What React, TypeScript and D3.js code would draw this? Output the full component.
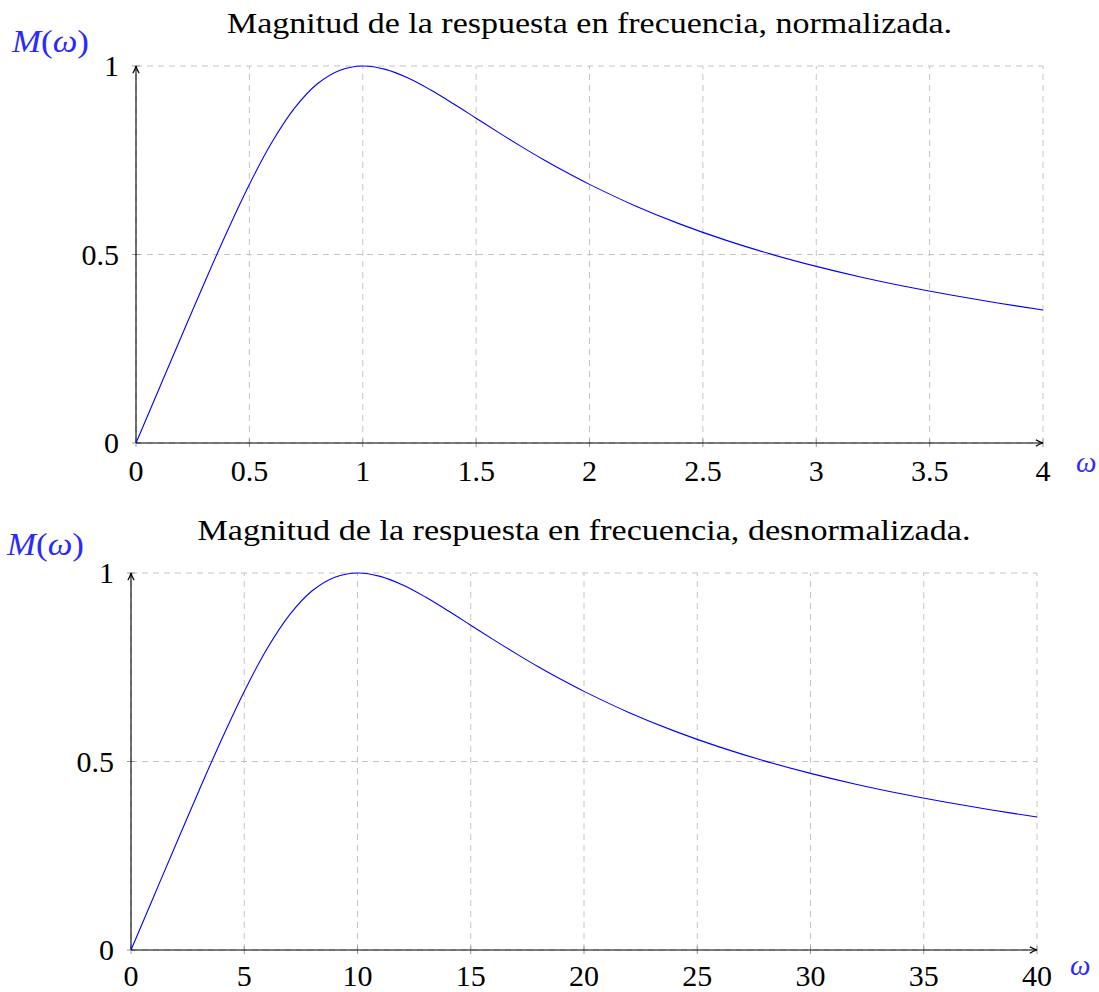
import React from "react";
import * as d3 from "d3";

const omegaNorm = [0, 0.1, 0.2, 0.3, 0.4, 0.5, 0.6, 0.7, 0.8, 0.9, 1.0, 1.1, 1.2, 1.3, 1.4, 1.5, 1.6, 1.7, 1.8, 1.9, 2.0, 2.2, 2.4, 2.6, 2.8, 3.0, 3.2, 3.4, 3.6, 3.8, 4.0];
const omegaDenorm = [0, 1, 2, 3, 4, 5, 6, 7, 8, 9, 10, 11, 12, 13, 14, 15, 16, 17, 18, 19, 20, 22, 24, 26, 28, 30, 32, 34, 36, 38, 40];
const magnitude = [0, 0.1414, 0.2826, 0.4226, 0.5586, 0.686, 0.7984, 0.8889, 0.9529, 0.989, 1.0, 0.991, 0.968, 0.9362, 0.8998, 0.8615, 0.8233, 0.7862, 0.7507, 0.7173, 0.686, 0.6295, 0.5806, 0.5381, 0.501, 0.4685, 0.4398, 0.4144, 0.3917, 0.3713, 0.3529];

const xTicksNorm = [0, 0.5, 1, 1.5, 2, 2.5, 3, 3.5, 4];
const xTicksDenorm = [0, 5, 10, 15, 20, 25, 30, 35, 40];
const yTicks = [0, 0.5, 1];

const titleNorm = "Magnitud de la respuesta en frecuencia, normalizada.";
const titleDenorm = "Magnitud de la respuesta en frecuencia, desnormalizada.";

const FONT = "Liberation Serif";

function Panel({ omega, xTicks, xMax, title, titleW, x0, x1, y0, y1, idp, mDy, wDy, tDy }: any) {
  const x = d3.scaleLinear().domain([0, xMax]).range([x0, x1]);
  const y = d3.scaleLinear().domain([0, 1]).range([y0, y1]);
  const pts: [number, number][] = omega.map((w: number, i: number) => [w, magnitude[i]]);
  const line = d3.line<[number, number]>().x(d => x(d[0])).y(d => y(d[1])).curve(d3.curveCatmullRom.alpha(0.5));
  const fmt = (v: number) => String(v);
  return (
    <g>
      <defs>
        <marker id={"arr" + idp} viewBox="0 0 10 10" refX="9" refY="5" markerWidth="9" markerHeight="9" orient="auto" markerUnits="userSpaceOnUse">
          <path d="M1,1.5 Q5,4 9,5 Q5,6 1,8.5" fill="none" stroke="#000" strokeWidth="1.3" />
        </marker>
      </defs>
      {xTicks.map((t: number) => (
        <line key={"gx" + t} x1={x(t)} x2={x(t)} y1={y(0)} y2={y(1)} stroke="#c4c4c4" strokeWidth={1} strokeDasharray="6,5" />
      ))}
      {yTicks.map((t: number) => (
        <line key={"gy" + t} x1={x(0)} x2={x(xMax)} y1={y(t)} y2={y(t)} stroke="#c4c4c4" strokeWidth={1} strokeDasharray="6,5" />
      ))}
      {xTicks.map((t: number) => (
        <line key={"tx" + t} x1={x(t)} x2={x(t)} y1={y(0) - 4} y2={y(0) + 4} stroke="#999" strokeWidth={1} />
      ))}
      {yTicks.map((t: number) => (
        <line key={"ty" + t} x1={x(0) - 4} x2={x(0) + 4} y1={y(t)} y2={y(t)} stroke="#999" strokeWidth={1} />
      ))}
      <line x1={x(0)} x2={x(xMax)} y1={y(0)} y2={y(0)} stroke="#000" strokeWidth={1.1} markerEnd={`url(#arr${idp})`} />
      <line x1={x(0)} x2={x(0)} y1={y(0)} y2={y(1)} stroke="#000" strokeWidth={1.1} markerEnd={`url(#arr${idp})`} />
      <path d={line(pts) || ""} fill="none" stroke="#0000ff" strokeWidth={1.1} />
      {xTicks.map((t: number) => (
        <text key={"lx" + t} x={x(t)} y={y(0) + tDy} textAnchor="middle" fontSize={30} fontFamily={FONT} fill="#000">{fmt(t)}</text>
      ))}
      {yTicks.map((t: number) => (
        <text key={"ly" + t} x={x(0) - 17} y={y(t) + 10} textAnchor="end" fontSize={30} fontFamily={FONT} fill="#000">{fmt(t)}</text>
      ))}
      <text x={(x0 + x1) / 2 - titleW / 2} y={y1 - 33} fontSize={29} fontFamily={FONT} fill="#000" textLength={titleW} lengthAdjust="spacingAndGlyphs">{title}</text>
      <text x={x0 - 124} y={y1 + mDy} fontSize={31} fontFamily={FONT} fill="#2a2aff" textLength={77} lengthAdjust="spacingAndGlyphs">
        <tspan fontStyle="italic">M</tspan>(<tspan fontStyle="italic">ω</tspan>)
      </text>
      <text x={x1 + 33} y={y0 + wDy} fontSize={29} fontFamily={FONT} fill="#2a2aff" fontStyle="italic">ω</text>
    </g>
  );
}

export default function App() {
  return (
    <svg width={1099} height={992} style={{ position: "absolute", left: 0, top: 0 }}>
      <rect width={1099} height={992} fill="#fff" />
      <Panel omega={omegaNorm} xTicks={xTicksNorm} xMax={4} title={titleNorm} titleW={725} x0={136} x1={1043} y0={443} y1={66} idp="a" mDy={-14} wDy={29} tDy={38} />
      <Panel omega={omegaDenorm} xTicks={xTicksDenorm} xMax={40} title={titleDenorm} titleW={773} x0={131} x1={1037} y0={950} y1={573} idp="b" mDy={-18} wDy={25} tDy={36} />
    </svg>
  );
}
